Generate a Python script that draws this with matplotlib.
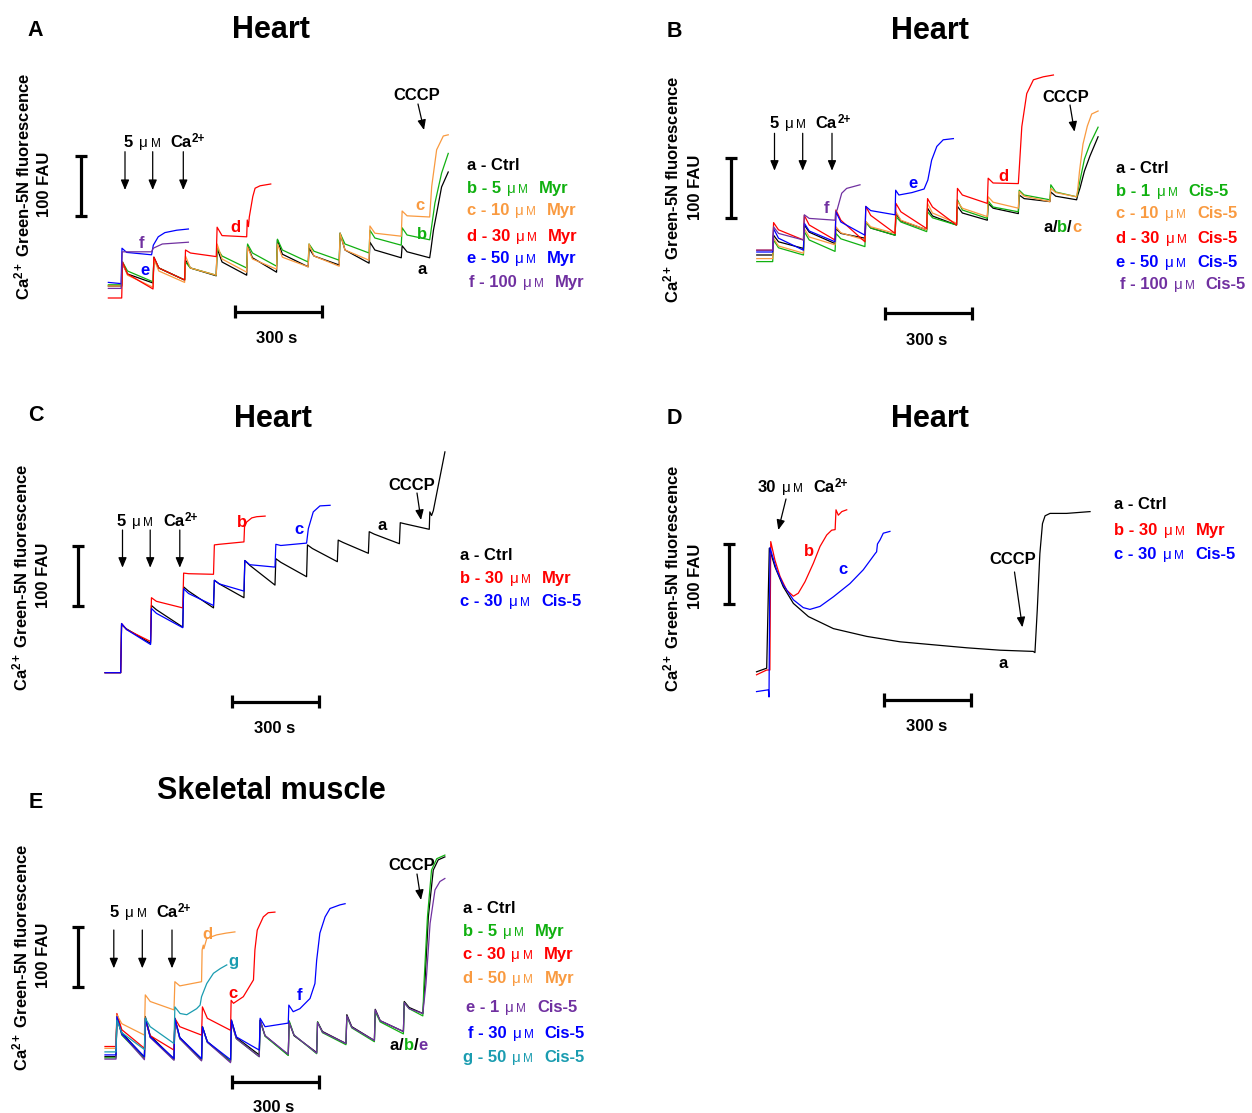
import matplotlib.pyplot as plt
from matplotlib.patches import FancyArrowPatch

plt.rcParams['font.family'] = ['Liberation Sans', 'DejaVu Sans']
plt.rcParams['mathtext.fontset'] = 'custom'
plt.rcParams['mathtext.rm'] = 'Liberation Sans:bold'
plt.rcParams['mathtext.it'] = 'Liberation Sans:bold'
plt.rcParams['mathtext.bf'] = 'Liberation Sans:bold'

W, H = 1252, 1113
SX, SY = 0.29, 0.6  # pixels per second, pixels per FAU

K, G, O, R, B, P, T = 'black', '#10b010', '#f99a40', '#ff0000', '#0000ff', '#7030a0', '#1a9cb0'

# ---------------- data (time in s from first Ca2+ pulse, fluorescence in FAU) ----------------
# Panel A - heart, myristate
pulses_A = [0, 108, 217, 326, 431, 534, 643, 750, 853, 964, 1062]
A_a_peak = [37, 48, 43, 63, 67, 77, 63, 88, 73, 67]
A_a_knee = [20, 30, 30, 40, 47, 53, 50, 60, 60, 57]
A_a_trough = [5, 10, 17, 18, 23, 32, 35, 38, 47, 47]
A_a_tail = [(1066, 60), (1075, 93), (1086, 121), (1103, 165), (1126, 190)]
A_b_peak = [40, 45, 40, 63, 70, 78, 70, 88, 93, 97]
A_b_knee = [25, 30, 30, 50, 55, 60, 58, 70, 80, 85]
A_b_trough = [7, 10, 18, 30, 33, 40, 43, 55, 68, 77]
A_b_tail = [(1066, 90), (1080, 138), (1103, 188), (1126, 221)]
A_c_peak = [38, 45, 50, 70, 65, 70, 70, 88, 100, 125]
A_c_knee = [18, 25, 30, 45, 45, 48, 50, 60, 88, 117]
A_c_trough = [-2, 6, 18, 23, 28, 32, 33, 43, 83, 115]
A_c_tail = [(1064, 130), (1069, 166), (1086, 227), (1109, 250), (1126, 252)]
A_d_peak = [40, 48, 60, 98]
A_d_knee = [20, 30, 55, 84]
A_d_trough = [-5, 10, 49, 82]
A_d_tail = [(433, 110), (437, 99), (440, 115), (452, 149), (460, 163), (477, 167), (514, 170)]
A_e_t = [-46, -2, 1, 17, 103, 109, 126, 149, 190, 230]
A_e_F = [6, 4, 63, 56, 52, 68, 82, 89, 93, 95]
A_f_t = [-46, -2, 2, 103, 109, 140, 230]
A_f_F = [-4, -4, 57, 57, 63, 70, 73]

# Panel B - heart, cis-5
pulses_B = [0, 106, 215, 318, 422, 531, 634, 740, 847, 956, 1048]
B_a_peak = [33, 50, 44, 55, 69, 78, 81, 86, 100, 105]
B_a_knee = [22, 38, 36, 45, 57, 65, 70, 78, 94, 98]
B_a_trough = [11, 19, 28, 33, 42, 50, 58, 69, 89, 92]
B_a_tail = [(1052, 100), (1060, 112), (1075, 140), (1094, 165), (1122, 197)]
B_b_peak = [25, 39, 36, 55, 64, 72, 92, 90, 108, 117]
B_b_knee = [12, 25, 27, 45, 55, 62, 75, 80, 100, 105]
B_b_trough = [0, 6, 14, 33, 39, 50, 61, 72, 92, 97]
B_b_tail = [(1052, 105), (1060, 125), (1075, 160), (1094, 185), (1122, 213)]
B_c_peak = [28, 44, 47, 56, 72, 86, 89, 97, 106, 111]
B_c_knee = [15, 30, 37, 47, 58, 70, 78, 88, 98, 104]
B_c_trough = [3, 17, 25, 36, 42, 53, 64, 78, 89, 97]
B_c_tail = [(1052, 110), (1058, 140), (1070, 185), (1085, 215), (1100, 235), (1122, 240)]
B_d_peak = [54, 66, 75, 81, 86, 94, 111, 128]
B_d_knee = [42, 50, 58, 66, 72, 80, 100, 120]
B_d_trough = [25, 25, 22, 36, 44, 50, 86, 119]
B_d_tail = [(850, 142), (859, 214), (876, 269), (899, 292), (933, 297), (968, 300)]
B_e_peak = [44, 53, 72, 81]
B_e_knee = [28, 40, 55, 74]
B_e_trough = [8, 22, 33, 67]
B_e_tail = [(424, 108), (435, 100), (480, 104), (522, 110), (535, 125), (548, 158), (566, 181), (588, 192), (623, 194)]
B_f_peak = [47, 67]
B_f_knee = [36, 61]
B_f_trough = [25, 58]
B_f_tail = [(217, 72), (222, 75), (238, 103), (255, 111), (301, 117)]

# Panel C - heart, 30 uM Myr vs Cis-5
pulses_C = [0, 103, 214, 320, 425, 532, 641, 747, 854, 961, 1064]
C_a_peak = [80, 112, 143, 154, 187, 190, 213, 221, 235, 250]
C_a_knee = [73, 105, 136, 148, 179, 184, 207, 217, 231, 248]
C_a_trough = [49, 76, 108, 125, 146, 160, 185, 199, 215, 239]
C_a_tail = [(1066, 268), (1072, 262), (1078, 270), (1118, 368)]
C_b_peak = [82, 125, 166, 213]
C_b_knee = [72, 119, 165, 214]
C_b_trough = [52, 108, 164, 218]
C_b_tail = [(427, 243), (434, 251), (452, 258), (469, 260), (498, 261)]
C_c_peak = [82, 107, 140, 154, 187, 214]
C_c_knee = [72, 99, 132, 148, 180, 212]
C_c_trough = [47, 75, 112, 136, 176, 216]
C_c_tail = [(647, 240), (664, 268), (687, 278), (722, 279)]

# Panel D - heart, single 30 uM Ca2+ pulse
D_a_t = [-44, -9, 0, 19.5, 48, 83, 135, 221, 336, 451, 566, 681, 796, 910, 916, 924, 933, 942, 951, 968, 1025, 1106]
D_a_F = [-3, 3, 203, 172, 139, 111, 89, 69, 56, 47, 42, 37, 33, 31, 29, 100, 194, 244, 257, 261, 261, 264]
D_b_t = [-44, -9, 2, 5, 19.5, 37, 60, 83, 100, 123, 152, 175, 198, 215, 227, 230, 238, 250, 267]
D_b_F = [-8, 0, 0, 214, 183, 156, 133, 123, 128, 147, 178, 206, 225, 233, 234, 267, 258, 264, 267]
D_c_t = [-44, -3, -1, 2.4, 25, 48, 83, 117, 140, 175, 221, 278, 324, 365, 370, 373, 382, 393, 416]
D_c_F = [-36, -33, -45, 204, 167, 142, 117, 104, 101, 106, 122, 144, 167, 194, 197, 210, 217, 228, 231]

# Panel E - skeletal muscle
pulses_E = [0, 98, 200, 295, 395, 494, 594, 692, 793, 891, 991, 1058]
E_a_peak = [70, 67, 64, 50, 61, 61, 58, 58, 70, 79, 92]
E_a_knee = [40, 35, 32, 25, 32, 35, 35, 42, 50, 60, 82]
E_a_trough = [-1, -4, -5, -8, 3, 3, 7, 22, 27, 42, 72]
E_a_tail = [(1065, 122), (1077, 233), (1094, 311), (1111, 328), (1134, 333)]
E_b_peak = [67, 65, 62, 50, 58, 60, 60, 58, 67, 75, 90]
E_b_knee = [36, 33, 30, 24, 30, 34, 36, 40, 48, 58, 80]
E_b_trough = [-3, -5, -6, -8, 0, 2, 5, 20, 25, 38, 68]
E_b_tail = [(1062, 122), (1074, 233), (1088, 311), (1106, 330), (1134, 336)]
E_e_peak = [66, 64, 62, 48, 57, 60, 57, 57, 68, 78, 90]
E_e_knee = [38, 32, 30, 24, 30, 35, 36, 41, 49, 60, 80]
E_e_trough = [-5, -6, -7, -10, 0, 4, 6, 22, 27, 42, 72]
E_e_tail = [(1069, 122), (1083, 222), (1100, 278), (1117, 292), (1134, 297)]
E_c_peak = [72, 61, 64, 83]
E_c_knee = [45, 35, 50, 64]
E_c_trough = [14, 11, 36, 44]
E_c_tail = [(397, 94), (405, 89), (439, 100), (474, 128), (479, 178), (487, 211), (508, 233), (525, 240), (548, 241)]
E_d_peak = [70, 103, 125]
E_d_knee = [55, 92, 118]
E_d_trough = [36, 78, 125]
E_d_tail = [(297, 178), (301, 186), (303, 180), (313, 197), (347, 203), (380, 206), (410, 208)]
E_f_peak = [67, 64, 64, 50, 61, 64]
E_f_knee = [38, 33, 32, 25, 33, 50]
E_f_trough = [0, -3, -3, -5, 11, 56]
E_f_tail = [(596, 86), (611, 75), (634, 80), (669, 97), (686, 122), (692, 161), (703, 206), (721, 233), (738, 247), (772, 253), (790, 255)]
E_g_peak = [61, 64]
E_g_knee = [40, 50]
E_g_trough = [12, 22]
E_g_tail = [(203, 83), (221, 72), (244, 70), (278, 80), (290, 86), (295, 100), (313, 122), (336, 139), (360, 147), (382, 153)]

# ---------------- drawing ----------------
fig = plt.figure(figsize=(W / 100, H / 100), dpi=100)
rend = fig.canvas.get_renderer()


def panel_axes(x0, y0):
    # whole-figure transparent axes; t=0 / F=0 sits at pixel (x0, y0)
    ax = fig.add_axes([0, 0, 1, 1])
    ax.set_xlim(-x0 / SX, (W - x0) / SX)
    ax.set_ylim((y0 - H) / SY, y0 / SY)
    ax.axis('off')
    ax.patch.set_alpha(0)
    return ax


def saw(pulses, t0, start, peak, knee, trough, tail):
    t, y = [t0, pulses[0]], [start, start]
    for i in range(len(peak)):
        tp = pulses[i]
        t += [tp + 3, tp + 20, pulses[i + 1]]
        y += [peak[i], knee[i], trough[i]]
    for tt, yy in tail:
        t.append(tt)
        y.append(yy)
    return t, y


def trace(ax, t, y, c):
    ax.plot(t, y, color=c, lw=0.9)


def scale_bars(ax, hx, hy, vx, vy):
    kw = dict(color='k', lw=2.3, solid_capstyle='butt')
    ax.plot([hx, hx + 300], [hy, hy], **kw)
    for x in (hx, hx + 300):
        ax.plot([x, x], [hy - 11, hy + 11], **kw)
    ax.plot([vx, vx], [vy, vy + 100], **kw)
    for y in (vy, vy + 100):
        ax.plot([vx - 21, vx + 21], [y, y], **kw)


def put(x, y, s, c='k', size=12, weight='bold', ha='center', va='baseline', **kw):
    return fig.text(x / W, 1 - y / H, s, color=c, fontsize=size, fontweight=weight,
                    ha=ha, va=va, **kw)


def rich(x, y, parts):
    for s, c, size, weight, gap, dy in parts:
        x += gap
        t = put(x, y - dy, s, c, size, weight, ha='left')
        x += t.get_window_extent(rend).width


def entry(x, y, letter, dose, drug, c):
    rich(x, y, [(f'{letter} - {dose}', c, 12, 'bold', 0, 0),
                ('\u03bc', c, 11, 'normal', 6, 0),
                ('M', c, 8.5, 'normal', 2.5, 0),
                (drug, c, 12, 'bold', 11, 0)])


def ca_label(x, y, dose):
    rich(x, y, [(dose, K, 12, 'bold', 0, 0),
                ('\u03bc', K, 11, 'normal', 6, 0),
                ('M', K, 8.5, 'normal', 2.5, 0),
                ('Ca', K, 12, 'bold', 10, 0),
                ('2+', K, 8.5, 'bold', 0.5, 5)])


def arrow(x1, y1, x2, y2):
    fig.add_artist(FancyArrowPatch((x1 / W, 1 - y1 / H), (x2 / W, 1 - y2 / H),
                                   transform=fig.transFigure,
                                   arrowstyle='-|>,head_length=0.6,head_width=0.25',
                                   mutation_scale=10, lw=0.9, color='k',
                                   shrinkA=0, shrinkB=0))


def frame(letter, lx, lb, title, tx, tb, yx, fx, yc, cccp, bar_lbl):
    put(lx, lb, letter, size=15.5)
    put(tx, tb, title, size=22)
    put(yx, yc, r'Ca$^{2+}$ Green-5N fluorescence', rotation=90, va='center')
    put(fx, yc - 2, '100 FAU', rotation=90, va='center')
    put(*cccp, 'CCCP')
    put(*bar_lbl, '300 s')


# ----- Panel A -----
ax = panel_axes(121.7, 286)
for pk, kn, tr, tl, c, st in [(A_a_peak, A_a_knee, A_a_trough, A_a_tail, K, 0),
                              (A_b_peak, A_b_knee, A_b_trough, A_b_tail, G, 2),
                              (A_c_peak, A_c_knee, A_c_trough, A_c_tail, O, 0),
                              (A_d_peak, A_d_knee, A_d_trough, A_d_tail, R, -20)]:
    trace(ax, *saw(pulses_A, -46, st, pk, kn, tr, tl), c)
trace(ax, A_e_t, A_e_F, B)
trace(ax, A_f_t, A_f_F, P)
scale_bars(ax, 391, -43, -140, 117)
frame('A', 35, 36, 'Heart', 271, 38.3, 22.7, 44.5, 186, (417, 100), (277, 343.3))
arrow(418, 104, 424, 130)
ca_label(124, 146.7, '5')
for x in (125, 152.7, 183.3):
    arrow(x, 151.7, x, 190)
put(141.7, 247.7, 'f', P)
put(145, 275, 'e', B)
put(235, 232, 'd', R)
put(420, 209.5, 'c', O)
put(421.7, 239.3, 'b', G)
put(421.7, 274.5, 'a', K)
put(466.7, 170, 'a - Ctrl', ha='left')
for yb, lt, dose, c in [(192.7, 'b', '5', G), (215, 'c', '10', O), (240.7, 'd', '30', R),
                        (263.3, 'e', '50', B), (286.7, 'f', '100', P)]:
    entry(469 if lt == 'f' else 466.7, yb, lt, dose, 'Myr', c)

# ----- Panel B -----
ax = panel_axes(772.7, 255)
for pk, kn, tr, tl, c, st in [(B_a_peak, B_a_knee, B_a_trough, B_a_tail, K, 0),
                              (B_b_peak, B_b_knee, B_b_trough, B_b_tail, G, -11),
                              (B_c_peak, B_c_knee, B_c_trough, B_c_tail, O, -6),
                              (B_d_peak, B_d_knee, B_d_trough, B_d_tail, R, 8),
                              (B_e_peak, B_e_knee, B_e_trough, B_e_tail, B, 5),
                              (B_f_peak, B_f_knee, B_f_trough, B_f_tail, P, 8)]:
    trace(ax, *saw(pulses_B, -55, st, pk, kn, tr, tl), c)
scale_bars(ax, 387, -97, -144, 61)
frame('B', 674.5, 37.3, 'Heart', 930, 39.3, 671, 695, 189, (1066, 101.7), (927, 345))
arrow(1070, 105, 1074.5, 131.7)
ca_label(769.4, 128.3, '5')
for x in (774.5, 802.7, 832):
    arrow(x, 133.3, x, 170.7)
put(826.7, 212.7, 'f', P)
put(913.3, 187.8, 'e', B)
put(1003.3, 181, 'd', R)
rich(1043.3, 231.7, [('a', K, 12, 'bold', 0, 0), ('/', K, 12, 'bold', 0, 0), ('b', G, 12, 'bold', 0, 0),
                     ('/', K, 12, 'bold', 0, 0), ('c', O, 12, 'bold', 0, 0)])
put(1116.5, 172.7, 'a - Ctrl', ha='left')
for yb, lt, dose, c in [(196, 'b', '1', G), (218.3, 'c', '10', O), (243.3, 'd', '30', R),
                        (266.7, 'e', '50', B), (289.3, 'f', '100', P)]:
    entry(1120 if lt == 'f' else 1116.5, yb, lt, dose, 'Cis-5', c)

# ----- Panel C -----
ax = panel_axes(120.7, 672.7)
for pk, kn, tr, tl, c in [(C_a_peak, C_a_knee, C_a_trough, C_a_tail, K),
                          (C_b_peak, C_b_knee, C_b_trough, C_b_tail, R),
                          (C_c_peak, C_c_knee, C_c_trough, C_c_tail, B)]:
    trace(ax, *saw(pulses_C, -54, 0, pk, kn, tr, tl), c)
scale_bars(ax, 385, -48, -146, 111)
frame('C', 35.6, 420.7, 'Heart', 273, 426.7, 20, 43.5, 577, (412, 490), (275, 732.7))
arrow(417, 493, 421, 520)
ca_label(116.6, 525.7, '5')
for x in (122.5, 150.2, 179.8):
    arrow(x, 530, x, 567.7)
put(241.7, 527, 'b', R)
put(299.3, 534.5, 'c', B)
put(381.7, 529.5, 'a', K)
put(460.5, 560, 'a - Ctrl', ha='left')
entry(460.5, 583.3, 'b', '30', 'Myr', R)
entry(460.5, 606, 'c', '30', 'Cis-5', B)

# ----- Panel D -----
ax = panel_axes(769.3, 670)
trace(ax, D_a_t, D_a_F, K)
trace(ax, D_b_t, D_b_F, R)
trace(ax, D_c_t, D_c_F, B)
scale_bars(ax, 397, -50, -138, 110)
frame('D', 674.5, 424, 'Heart', 930, 426.7, 671, 695, 578, (1013, 564.3), (927, 730.7))
arrow(1014.5, 572, 1022.4, 627.3)
ca_label(757.5, 491.7, '30')
arrow(786, 499, 778.3, 530)
put(809.3, 556, 'b', R)
put(842.7, 574.5, 'c', B)
put(1003.3, 667.8, 'a', K)
put(1114.5, 509.3, 'a - Ctrl', ha='left')
entry(1114.5, 535, 'b', '30', 'Myr', R)
entry(1114.5, 558.7, 'c', '30', 'Cis-5', B)

# ----- Panel E -----
ax = panel_axes(116, 1056.7)
for pk, kn, tr, tl, c, st in [(E_a_peak, E_a_knee, E_a_trough, E_a_tail, K, 0),
                              (E_b_peak, E_b_knee, E_b_trough, E_b_tail, G, -2),
                              (E_e_peak, E_e_knee, E_e_trough, E_e_tail, P, -4),
                              (E_c_peak, E_c_knee, E_c_trough, E_c_tail, R, 17),
                              (E_d_peak, E_d_knee, E_d_trough, E_d_tail, O, 14),
                              (E_f_peak, E_f_knee, E_f_trough, E_f_tail, B, 3),
                              (E_g_peak, E_g_knee, E_g_trough, E_g_tail, T, 8)]:
    trace(ax, *saw(pulses_E, -38, st, pk, kn, tr, tl), c)
scale_bars(ax, 401, -42, -130, 117)
frame('E', 35.6, 808.3, 'Skeletal muscle', 271, 799.3, 20, 43.5, 957, (412, 870), (274, 1112.5))
arrow(417, 874, 421, 900)
ca_label(110, 917.3, '5')
for x in (113.8, 142.3, 172):
    arrow(x, 930, x, 968.3)
put(207.3, 938.7, 'd', O)
put(233.3, 966, 'g', T)
put(233.3, 998.5, 'c', R)
put(299.3, 1000, 'f', B)
rich(390, 1050, [('a', K, 12, 'bold', 0, 0), ('/', K, 12, 'bold', 0, 0), ('b', G, 12, 'bold', 0, 0),
                 ('/', K, 12, 'bold', 0, 0), ('e', P, 12, 'bold', 0, 0)])
put(463, 912.7, 'a - Ctrl', ha='left')
for yb, lt, dose, drug, c in [(936, 'b', '5', 'Myr', G), (959.3, 'c', '30', 'Myr', R),
                              (983.3, 'd', '50', 'Myr', O), (1011.7, 'e', '1', 'Cis-5', P),
                              (1038.3, 'f', '30', 'Cis-5', B), (1061.7, 'g', '50', 'Cis-5', T)]:
    entry(468 if lt == 'f' else (465.6 if lt == 'e' else 463), yb, lt, dose, drug, c)

fig.savefig('out.png', dpi=100)
